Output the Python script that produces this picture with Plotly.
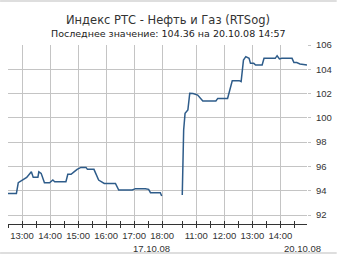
import plotly.graph_objects as go

# Day 1 (17.10.08)
day1_times = ["12:30", "12:48", "12:52", "13:02", "13:10", "13:20", "13:24", "13:34", "13:36", "13:41",
              "13:48", "13:59", "14:06", "14:10", "14:34", "14:38", "14:45", "14:52", "14:58", "15:06",
              "15:17", "15:20", "15:34", "15:44", "15:56", "16:20", "16:27", "16:56", "17:03", "17:24",
              "17:31", "17:35", "17:56", "17:59"]
day1_values = [93.78, 93.78, 94.66, 94.88, 95.10, 95.56, 95.10, 95.10, 95.56, 95.43,
               94.66, 94.66, 94.88, 94.74, 94.74, 95.35, 95.35, 95.57, 95.76, 95.92,
               95.92, 95.76, 95.76, 94.88, 94.60, 94.60, 94.06, 94.06, 94.17, 94.17,
               94.11, 93.84, 93.84, 93.56]

# Day 2 (20.10.08)
day2_times = ["10:30", "10:31", "10:33", "10:36", "10:42", "10:46", "10:53", "11:03", "11:14", "11:42",
              "11:46", "12:07", "12:10", "12:17", "12:32", "12:36", "12:41", "12:46", "12:53", "12:56",
              "13:03", "13:07", "13:21", "13:25", "13:49", "13:53", "13:58", "14:03", "14:25", "14:29",
              "14:35", "14:42", "14:57"]
day2_values = [93.64, 96.26, 99.00, 100.37, 100.65, 102.02, 102.00, 101.88, 101.39, 101.39,
               101.60, 101.60, 102.02, 103.06, 103.06, 102.98, 104.76, 105.04, 104.90, 104.49,
               104.49, 104.35, 104.35, 104.90, 104.90, 105.12, 104.85, 104.90, 104.90, 104.55,
               104.55, 104.44, 104.36]

day1_date = "2008-10-17"
day2_date = "2008-10-20"
x_labels = ["13:00", "14:00", "15:00", "16:00", "17:00", "18:00", "11:00", "12:00", "13:00", "14:00"]
x_label_dates = [day1_date] * 6 + [day2_date] * 4
half_ticks_day1 = ["12:30", "13:00", "13:30", "14:00", "14:30", "15:00", "15:30", "16:00", "16:30", "17:00", "17:30", "18:00"]
half_ticks_day2 = ["10:30", "11:00", "11:30", "12:00", "12:30", "13:00", "13:30", "14:00", "14:30"]
y_ticks = [92, 94, 96, 98, 100, 102, 104, 106]

title = "Индекс РТС - Нефть и Газ (RTSog)"
subtitle = "Последнее значение: 104.36 на 20.10.08 14:57"
date_labels = ["17.10.08", "20.10.08"]

x1 = [f"{day1_date} {t}" for t in day1_times]
x2 = [f"{day2_date} {t}" for t in day2_times]
major_vals = [f"{d} {t}" for d, t in zip(x_label_dates, x_labels)]
minor_vals = [f"{day1_date} {t}" for t in half_ticks_day1] + [f"{day2_date} {t}" for t in half_ticks_day2]

x_range = [f"{day1_date} 12:30", f"{day2_date} 14:57"]
breaks = [dict(bounds=[f"{day1_date} 18:43", f"{day2_date} 10:30"])]

LINE = "#2e5c8a"
GRID = "#c4c4c4"
TXT = "#333333"
FONT = "DejaVu Sans"
TICKFONT = "Liberation Sans"

fig = go.Figure()
fig.add_trace(go.Scatter(x=x1, y=day1_values, mode="lines", line=dict(color=LINE, width=1.5), hoverinfo="skip"))
fig.add_trace(go.Scatter(x=x2, y=day2_values, mode="lines", line=dict(color=LINE, width=1.5), hoverinfo="skip"))
fig.add_trace(go.Scatter(x=x2, y=day2_values, mode="lines", line=dict(color="rgba(0,0,0,0)", width=0),
                         xaxis="x2", hoverinfo="skip"))

fig.update_layout(
    width=340, height=255,
    margin=dict(l=8, r=30, t=45, b=31),
    paper_bgcolor="white", plot_bgcolor="white",
    showlegend=False,
    font=dict(family=TICKFONT, size=9, color=TXT),
    xaxis=dict(type="date", range=x_range, rangebreaks=breaks,
               tickmode="array", tickvals=major_vals, ticktext=x_labels,
               ticks="outside", ticklen=3, tickcolor=TXT, tickwidth=1,
               showline=True, linecolor=TXT, linewidth=1,
               showgrid=True, gridcolor=GRID, gridwidth=1, zeroline=False,
               tickfont=dict(family=TICKFONT, size=9.5, color=TXT),
               minor=dict(tickmode="array", tickvals=minor_vals, ticks="outside", ticklen=3,
                          tickcolor=TXT, showgrid=False)),
    xaxis2=dict(type="date", range=x_range, rangebreaks=breaks, overlaying="x", anchor="y", side="bottom",
                tickmode="array", tickvals=minor_vals, ticks="inside", ticklen=3, tickcolor=TXT,
                showticklabels=False, showgrid=False, showline=False, zeroline=False),
    yaxis=dict(range=[91.26, 106], side="right", tickmode="array", tickvals=y_ticks,
               ticks="outside", ticklen=3, tickcolor=GRID, showline=False,
               showgrid=True, gridcolor=GRID, gridwidth=1, zeroline=False,
               ticklabelstandoff=3,
               tickfont=dict(family=TICKFONT, size=9.5, color=TXT)),
    shapes=[
        dict(type="line", xref="paper", yref="paper", x0=-8/302, x1=332/302, y0=223/179, y1=223/179,
             line=dict(color="#bdbdbd", width=1)),
        dict(type="line", xref="paper", yref="paper", x0=-8/302, x1=332/302, y0=-29/179, y1=-29/179,
             line=dict(color="#bdbdbd", width=1)),
    ],
    annotations=[
        dict(text=title, xref="paper", yref="paper", x=(170-8)/302, y=(224-20)/179,
             showarrow=False, xanchor="center", yanchor="middle",
             font=dict(family=FONT, size=11.5, color=TXT)),
        dict(text=subtitle, xref="paper", yref="paper", x=(170-8)/302, y=(224-33)/179,
             showarrow=False, xanchor="center", yanchor="middle",
             font=dict(family=FONT, size=9.5, color="#222222")),
        dict(text=date_labels[0], xref="paper", yref="paper", x=(174-8)/302, y=(224-248)/179,
             showarrow=False, xanchor="right", yanchor="middle",
             font=dict(family=TICKFONT, size=9.5, color=TXT)),
        dict(text=date_labels[1], xref="paper", yref="paper", x=(326-8)/302, y=(224-248)/179,
             showarrow=False, xanchor="right", yanchor="middle",
             font=dict(family=TICKFONT, size=9.5, color=TXT)),
    ],
)

fig.write_html("out.html")
